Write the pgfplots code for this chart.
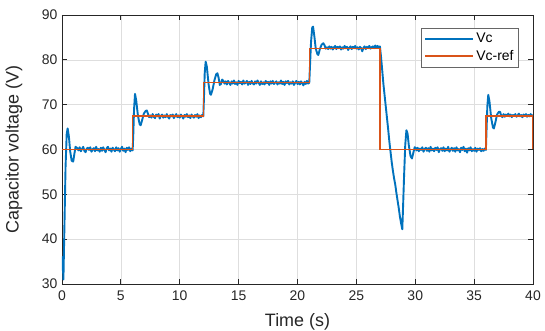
\documentclass[border=0pt]{standalone}
\usepackage{pgfplots}
\pgfplotsset{compat=1.18}
\usepackage{fontspec}
\setmainfont{Liberation Sans}
\definecolor{mblue}{RGB}{0,114,189}
\definecolor{morange}{RGB}{217,83,25}
\definecolor{gridc}{RGB}{222,222,222}
\definecolor{axc}{RGB}{38,38,38}
\begin{document}
\begin{tikzpicture}
\begin{axis}[
  scale only axis,
  width=471bp, height=269bp,
  xmin=0, xmax=40, ymin=30, ymax=90,
  xtick={0,5,...,40}, ytick={30,40,...,90},
  grid=major,
  major grid style={gridc, line width=0.6bp},
  axis line style={axc, line width=0.8bp},
  tick style={axc, line width=0.8bp},
  tick align=inside,
  major tick length=5bp,
  /pgf/number format/assume math mode=true,
  ticklabel style={font=\fontsize{14}{16}\selectfont, text=axc},
  xticklabel style={yshift=-3bp},
  yticklabel style={xshift=-1bp},
  xlabel={Time (s)},
  ylabel={Capacitor voltage (V)},
  label style={font=\fontsize{18}{20}\selectfont, text=axc},
  xlabel style={at={(axis description cs:0.5,-0.1413)}, anchor=center},
  ylabel style={at={(axis description cs:-0.1019,0.5)}, anchor=center},
  legend style={at={(0.970,0.952)}, anchor=north east, draw=gray!80!black, fill=white,
    font=\fontsize{14}{16}\selectfont, line width=0.7bp, inner sep=3bp, row sep=2bp},
  legend cell align=left,
  legend image code/.code={\draw[#1] plot coordinates {(0bp,0bp) (48bp,0bp)};},
]
\addplot[color=mblue, line width=1.9bp, line join=round] coordinates {
(0,33) (0.03,36) (0.08,34) (0.12,31) (0.2,42) (0.3,56) (0.4,63.5) (0.48,64.7) (0.58,63) (0.7,59.5) (0.82,57.5) (0.95,57.3) (1.05,59) (1.15,60.6) (1.25,60.4)
(1.3,60.3) (1.4,59.8) (1.5,60.5) (1.6,59.6) (1.7,60.1) (1.8,60.6) (1.9,59.7) (2.0,59.4) (2.1,60.2) (2.2,60.4) (2.3,59.9) (2.4,60.5) (2.5,59.5) (2.6,60.0) (2.7,60.3) (2.8,59.6) (2.9,60.6) (3.0,59.8) (3.1,60.1) (3.2,59.5) (3.3,60.4) (3.4,59.7) (3.5,60.5) (3.6,59.9) (3.7,59.4) (3.8,60.3) (3.9,60.6) (4.0,59.8) (4.1,60.2) (4.2,59.5) (4.3,60.4) (4.4,60.0) (4.5,59.6) (4.6,60.5) (4.7,59.8) (4.8,60.3) (4.9,59.5) (5.0,60.1) (5.1,60.6) (5.2,59.7) (5.3,60.2) (5.4,59.4) (5.5,60.4) (5.6,59.9) (5.7,60.5) (5.8,59.6) (5.9,60.2) (6.0,59.8)
(6.05,63) (6.12,69) (6.2,72.4) (6.3,71) (6.45,67.5) (6.6,65.6) (6.68,65.4) (6.8,66.5) (6.95,68) (7.1,68.6) (7.2,68.7) (7.3,68.0) (7.4,67.2)
(7.5,67.6) (7.6,67.1) (7.7,67.9) (7.8,67.3) (7.9,67.0) (8.0,67.8) (8.1,67.4) (8.2,67.9) (8.3,66.9) (8.4,67.5) (8.5,67.8) (8.6,67.1) (8.7,67.6) (8.8,67.2) (8.9,67.9) (9.0,67.3) (9.1,66.9) (9.2,67.7) (9.3,67.4) (9.4,67.8) (9.5,67.0) (9.6,67.5) (9.7,67.9) (9.8,67.2) (9.9,67.6) (10.0,67.1) (10.1,67.8) (10.2,67.4) (10.3,66.9) (10.4,67.7) (10.5,67.3) (10.6,67.9) (10.7,67.2) (10.8,67.6) (10.9,67.0) (11.0,67.8) (11.1,67.4) (11.2,67.1) (11.3,67.7) (11.4,67.3) (11.5,67.9) (11.6,67.0) (11.7,67.6) (11.8,67.2) (11.9,67.7) (12.0,67.4)
(12.05,71) (12.12,77) (12.2,79.6) (12.3,78.5) (12.45,74.5) (12.58,72.4) (12.65,72.2) (12.8,73.5) (12.95,75.5) (13.1,76.8) (13.2,77.0) (13.3,76.0) (13.4,74.4) (13.5,74.6) (13.6,75.6) (13.7,75.3)
(13.8,74.7) (13.9,75.2) (14.0,74.5) (14.1,75.3) (14.2,74.9) (14.3,74.4) (14.4,75.2) (14.5,74.7) (14.6,75.4) (14.7,74.6) (14.8,75.0) (14.9,74.4) (15.0,75.3) (15.1,74.8) (15.2,75.1) (15.3,74.5) (15.4,75.4) (15.5,74.7) (15.6,74.9) (15.7,75.3) (15.8,74.4) (15.9,75.1) (16.0,74.6) (16.1,75.3) (16.2,74.8) (16.3,74.5) (16.4,75.2) (16.5,74.7) (16.6,75.4) (16.7,74.9) (16.8,74.4) (16.9,75.2) (17.0,74.6) (17.1,75.0) (17.2,74.5) (17.3,75.3) (17.4,74.8) (17.5,75.1) (17.6,74.4) (17.7,75.2) (17.8,74.7) (17.9,75.3) (18.0,74.6) (18.1,74.9) (18.2,75.2) (18.3,74.5) (18.4,75.0) (18.5,74.7) (18.6,75.4) (18.7,74.6) (18.8,75.1) (18.9,74.4) (19.0,75.2) (19.1,74.8) (19.2,75.3) (19.3,74.5) (19.4,75.0) (19.5,74.7) (19.6,75.2) (19.7,74.4) (19.8,74.9) (19.9,75.3) (20.0,74.6) (20.1,75.1) (20.2,74.5) (20.3,75.2) (20.4,74.8) (20.5,74.3) (20.6,75.1) (20.7,74.6) (20.8,75.3) (20.9,74.7) (21.0,74.9)
(21.05,78) (21.15,84) (21.25,87.2) (21.32,87.4) (21.42,85.5) (21.55,82.5) (21.7,81.2) (21.77,81.1) (21.9,82.4) (22.05,83.4) (22.2,83.7) (22.3,83.2) (22.4,82.5) (22.5,82.8)
(22.6,82.4) (22.7,83.0) (22.8,82.5) (22.9,82.9) (23.0,82.3) (23.1,82.8) (23.2,83.1) (23.3,82.4) (23.4,82.9) (23.5,82.6) (23.6,83.0) (23.7,82.3) (23.8,82.8) (23.9,82.5) (24.0,83.1) (24.1,82.6) (24.2,82.9) (24.3,82.2) (24.4,82.7) (24.5,83.0) (24.6,82.4) (24.7,82.9) (24.8,82.6) (24.9,83.1) (25.0,82.5) (25.1,82.8) (25.2,82.3) (25.3,82.9) (25.4,82.6) (25.5,81.9) (25.6,82.7) (25.7,83.0) (25.8,82.4) (25.9,82.9) (26.0,82.6) (26.1,83.1) (26.2,82.5) (26.3,82.8) (26.4,83.0) (26.5,82.6) (26.6,83.2) (26.7,82.7) (26.8,83.1) (26.9,82.8) (27.0,83.0)
(27.1,80.5) (27.2,77.5) (27.3,74.5) (27.4,72) (27.5,69.5) (27.6,67) (27.7,64.5) (27.8,61.8) (27.9,59.5) (28.0,57.2) (28.1,55.3) (28.2,53.6) (28.3,52.2) (28.4,50.3) (28.5,48.6) (28.6,46.9) (28.7,45.0) (28.8,43.5) (28.9,42.2) (28.95,46) (29.05,54) (29.15,61) (29.25,64.3) (29.35,63.5) (29.45,61) (29.6,58.5) (29.72,58.0) (29.85,59.4) (29.95,60.5) (30.05,60.3)
(30.1,59.8) (30.2,60.4) (30.3,59.6) (30.4,60.2) (30.5,59.9) (30.6,60.5) (30.7,59.5) (30.8,60.1) (30.9,60.4) (31.0,59.7) (31.1,60.3) (31.2,59.5) (31.3,60.6) (31.4,59.8) (31.5,60.2) (31.6,59.6) (31.7,60.4) (31.8,59.9) (31.9,60.5) (32.0,59.4) (32.1,60.1) (32.2,60.3) (32.3,59.7) (32.4,60.5) (32.5,59.6) (32.6,60.2) (32.7,59.8) (32.8,60.6) (32.9,59.5) (33.0,60.0) (33.1,60.4) (33.2,59.7) (33.3,60.3) (33.4,59.5) (33.5,60.5) (33.6,59.8) (33.7,60.1) (33.8,59.4) (33.9,60.4) (34.0,59.9) (34.1,60.6) (34.2,59.6) (34.3,60.2) (34.4,59.3) (34.5,60.3) (34.6,59.8) (34.7,60.5) (34.8,59.6) (34.9,60.1) (35.0,59.7) (35.1,60.4) (35.2,59.5) (35.3,60.2) (35.4,59.9) (35.5,60.3) (35.6,59.6) (35.7,60.1) (35.8,59.7) (35.9,60.2) (36.0,59.9)
(36.05,64) (36.12,69.5) (36.2,72.2) (36.3,70.8) (36.45,67) (36.6,64.9) (36.68,64.7) (36.8,66) (36.95,67.8) (37.1,68.4) (37.2,68.4) (37.3,67.6) (37.4,67.2)
(37.5,67.9) (37.6,67.3) (37.7,67.8) (37.8,67.5) (37.9,68.0) (38.0,67.4) (38.1,67.8) (38.2,67.2) (38.3,67.7) (38.4,67.5) (38.5,67.9) (38.6,67.3) (38.7,67.6) (38.8,68.0) (38.9,67.4) (39.0,67.7) (39.1,67.2) (39.2,67.8) (39.3,67.5) (39.4,67.9) (39.5,67.3) (39.6,67.7) (39.7,67.4) (39.8,67.9) (39.9,67.5) (40.0,67.7)
};
\addlegendentry{Vc}
\addplot[color=morange, line width=1.3bp] coordinates {
(0,60) (6,60) (6,67.5) (12,67.5) (12,75) (21,75) (21,82.5) (27,82.5) (27,60) (36,60) (36,67.5) (40,67.5) (40,60)
};
\addlegendentry{Vc-ref}
\end{axis}
\pgfresetboundingbox
\path ([shift={(-62bp,-47bp)}]current axis.south west) rectangle ([shift={(12bp,15bp)}]current axis.north east);
\end{tikzpicture}
\end{document}
